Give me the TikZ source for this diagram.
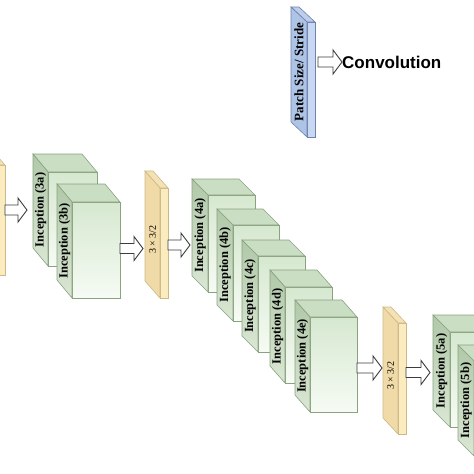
\documentclass[tikz,border=0pt]{standalone}
\usepackage{fontspec}
\setmainfont{Liberation Serif}
\newfontfamily\arialfont{Liberation Sans}
\usetikzlibrary{calc}
\definecolor{incF1}{RGB}{214,232,208}
\definecolor{incF2}{RGB}{246,251,244}
\definecolor{incS1}{RGB}{176,200,168}
\definecolor{incS2}{RGB}{218,231,212}
\definecolor{incT}{RGB}{202,222,195}
\definecolor{incD}{RGB}{138,162,128}
\definecolor{plF}{RGB}{251,236,192}
\definecolor{plS}{RGB}{240,218,168}
\definecolor{plT}{RGB}{245,226,180}
\definecolor{plD}{RGB}{205,185,135}
\definecolor{lgF}{RGB}{200,216,242}
\definecolor{lgS}{RGB}{174,196,230}
\definecolor{lgT}{RGB}{188,206,236}
\definecolor{lgD}{RGB}{110,130,172}
\definecolor{arD}{RGB}{60,60,60}
\tikzset{
  incfront/.style={draw=incD,line width=0.6pt,top color=incF1,bottom color=incF2,inner sep=0pt,outer sep=0pt},
  incside/.style={draw=incD,line width=0.6pt,top color=incS1,bottom color=incS2},
  inctop/.style={draw=incD,line width=0.6pt,fill=incT},
  plfront/.style={draw=plD,line width=0.6pt,fill=plF,inner sep=0pt,outer sep=0pt},
  plside/.style={draw=plD,line width=0.6pt,fill=plS},
  pltop/.style={draw=plD,line width=0.6pt,fill=plT},
  lgfront/.style={draw=lgD,line width=0.6pt,fill=lgF,inner sep=0pt,outer sep=0pt},
  lgside/.style={draw=lgD,line width=0.6pt,fill=lgS},
  lgtop/.style={draw=lgD,line width=0.6pt,fill=lgT},
  inclabel/.style={rotate=90,inner sep=0pt,font=\bfseries\fontsize{12.5}{12.5}\selectfont},
  pllabel/.style={rotate=90,xshift=-5pt,inner sep=0pt,font=\fontsize{10}{10}\selectfont},
  lglabel/.style={rotate=90,inner sep=0pt,font=\bfseries\fontsize{13}{13}\selectfont},
  blockarrow/.style={draw=arD,fill=white,line width=0.9pt,line join=miter}
}
% #1 name, #2 x, #3 y, #4 w, #5 h, #6 prefix (inc/pl/lg), #7 dx, #8 dy, #9 label
\newcommand{\cuboidbox}[9]{%
  \node[#6front,minimum width=#4pt,minimum height=#5pt,anchor=north west] (#1) at (#2,#3) {};
  \path[#6top] (#1.north west) -- ++(-#7,-#8) -- ++(#4,0) -- (#1.north east) -- cycle;
  \path[#6side] (#1.north west) -- ++(-#7,-#8) -- ++(0,#5) -- (#1.south west) -- cycle;
  \node[#6label] (#1-lbl) at ([xshift=-#7pt/2,yshift=#8pt/2]#1.west) {#9};
}
% block arrow from start to end (y taken from start)
\newcommand{\blockarrowfrom}[2]{%
  \draw[blockarrow] let \p1=#1, \p2=#2 in
    (\x1,\y1+5pt) -- (\x2-9pt,\y1+5pt) -- (\x2-9pt,\y1+12pt) -- (\x2,\y1) --
    (\x2-9pt,\y1-12pt) -- (\x2-9pt,\y1-5pt) -- (\x1,\y1-5pt) -- cycle;
}
\begin{document}
\begin{tikzpicture}[x=1pt,y=-1pt]
\useasboundingbox (0,0) rectangle (474,474);
\clip (0,0) rectangle (474,474);
\fill[white] (0,0) rectangle (474,474);
% legend
\cuboidbox{leg}{307}{22}{8}{115}{lg}{16}{15}{Patch Size/ Stride}
\node[anchor=west,inner sep=0pt,font=\arialfont\bfseries\fontsize{17}{17}\selectfont] (conv) at (342,62) {Convolution};
\blockarrowfrom{([xshift=3pt,yshift=17.5pt]leg.east)}{(conv.west)}
% left partial pooling slab
\cuboidbox{pool0}{-4}{165}{9}{110}{pl}{15}{17}{}
% inception 3
\cuboidbox{b3a}{48}{172}{49}{94}{inc}{15}{18}{Inception (3a)}
\cuboidbox{b3b}{72}{202}{48}{96}{inc}{15}{18}{Inception (3b)}
\blockarrowfrom{([yshift=10pt]pool0.east)}{([xshift=-21pt]b3a.west)}
% pooling 1
\cuboidbox{pool1}{160}{188}{8}{110}{pl}{15}{17}{3 × 3/2}
\blockarrowfrom{([yshift=1.5pt]b3b.east)}{([xshift=-17pt]pool1.west)}
% inception 4
\cuboidbox{b4a}{208}{195}{47}{97}{inc}{16}{16}{Inception (4a)}
\cuboidbox{b4b}{233}{225}{46}{96}{inc}{16}{16}{Inception (4b)}
\cuboidbox{b4c}{258}{256}{47}{96}{inc}{16}{16}{Inception (4c)}
\cuboidbox{b4d}{285}{287}{47}{96}{inc}{15}{17}{Inception (4d)}
\cuboidbox{b4e}{310}{317}{47}{95}{inc}{15}{17}{Inception (4e)}
\blockarrowfrom{([yshift=-2pt]pool1.east)}{([xshift=-18pt]b4a.west)}
% pooling 2
\cuboidbox{pool2}{398}{323}{8}{111}{pl}{15}{16}{3 × 3/2}
\blockarrowfrom{([yshift=-3.5pt]b4e.east)}{([xshift=-16pt]pool2.west)}
% inception 5
\cuboidbox{b5a}{450}{332}{47}{95}{inc}{17}{17}{Inception (5a)}
\cuboidbox{b5b}{474}{361}{47}{95}{inc}{16}{16}{Inception (5b)}
\blockarrowfrom{([yshift=6pt]pool2.east)}{([xshift=-20pt]b5a.west)}
\end{tikzpicture}
\end{document}
